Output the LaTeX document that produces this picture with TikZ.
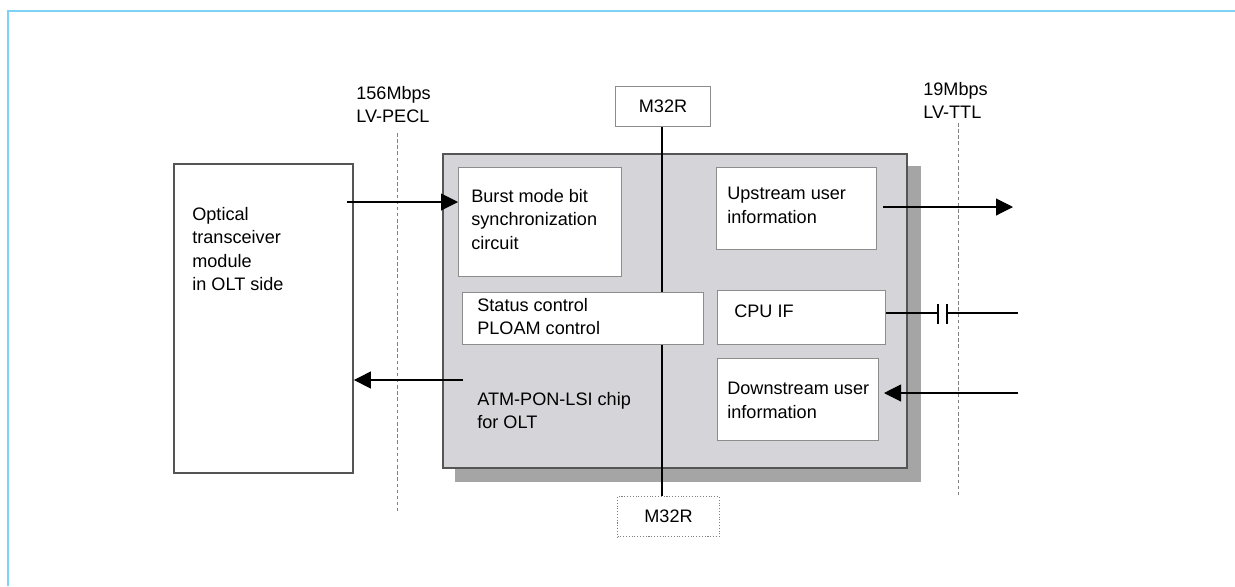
\documentclass[tikz,border=0pt]{standalone}
\usepackage{fontspec}
\setmainfont{Liberation Sans}
\usetikzlibrary{arrows.meta}

\definecolor{frameblue}{RGB}{125,210,245}
\definecolor{chipgray}{RGB}{213,213,217}
\definecolor{shadowgray}{RGB}{165,165,165}
\definecolor{edgegray}{RGB}{85,85,85}
\definecolor{boxgray}{RGB}{140,140,140}

\begin{document}
\begin{tikzpicture}[x=0.02cm, y=-0.02cm,
    outer/.style = {draw=edgegray, line width=1.1pt, fill=white, anchor=north west, inner sep=0},
    inner/.style = {draw=boxgray, line width=0.6pt, fill=white, anchor=north west, inner sep=0},
    txt/.style = {inner sep=0, anchor=north west, align=left, font=\fontsize{10.3}{13.3}\selectfont},
    rate/.style = {draw=gray, line width=0.5pt, dash pattern=on 2pt off 1.5pt},
    sig/.style = {line width=0.6pt, -{Triangle[length=0.34cm, width=0.34cm]}}]
    \useasboundingbox (0,0) rectangle (1235,586);

    % frame
    \draw[frameblue, line width=1.2pt] (8,586) -- (8,11) -- (1235,11);

    % interface rates
    \node[txt] (pecl) at (356,86) {156Mbps\\LV-PECL};
    \node[txt] (ttl) at (923,82) {19Mbps\\LV-TTL};
    \draw[rate] (397,133) -- (397,511);
    \draw[rate] (958,123) -- (958,495);

    % optical module
    \node[outer, minimum width=3.58cm, minimum height=6.18cm] (optic) at (173,163) {};
    \node[txt] (optictxt) at (192,207) {Optical\\transceiver\\module\\in OLT side};

    % chip
    \fill[shadowgray] (455,166) rectangle (921,482);
    \node[outer, fill=chipgray, minimum width=9.28cm, minimum height=6.28cm] (chip) at (442,153) {};

    % M32R
    \node[draw=boxgray, line width=0.6pt, fill=white, minimum width=1.9cm, minimum height=0.8cm, anchor=north west,
        font=\fontsize{10.3}{13.3}\selectfont] (m32top) at (615,86) {M32R};
    \node[draw=gray, line width=0.6pt, densely dotted, fill=white, minimum width=2.04cm, minimum height=0.8cm,
        anchor=north west, font=\fontsize{10.3}{13.3}\selectfont] (m32bot) at (617,496) {M32R};
    \coordinate (bus) at (662,300);
    \draw[line width=0.6pt] (m32top.south -| bus) -- (m32bot.north -| bus);

    % blocks inside chip
    \node[inner, minimum width=3.26cm, minimum height=2.18cm] (burst) at (458,167) {};
    \node[txt] at (471,189) {Burst mode bit\\synchronization\\circuit};
    \node[inner, minimum width=3.2cm, minimum height=1.64cm] (upstream) at (716,167) {};
    \node[txt] at (727,187) {Upstream user\\information};
    \node[inner, minimum width=4.82cm, minimum height=1.04cm] (status) at (462,292) {};
    \node[txt] at (477,298) {Status control\\PLOAM control};
    \node[inner, minimum width=3.36cm, minimum height=1.08cm] (cpuif) at (717,290) {};
    \node[txt] at (734,305) {CPU IF};
    \node[inner, minimum width=3.22cm, minimum height=1.64cm] (downstream) at (717,358) {};
    \node[txt] at (727,382) {Downstream user\\information};
    \node[txt] (chiptxt) at (477,392) {ATM-PON-LSI chip\\for OLT};

    % signals
    \coordinate (rxin) at (347,202);
    \coordinate (txout) at (463,380);
    \coordinate (upout) at (1013,207);
    \coordinate (upin) at (883,207);
    \coordinate (downin) at (1018,393);
    \coordinate (cpuout) at (1018,313);
    \draw[sig] (rxin) -- (burst.west |- rxin);
    \draw[sig] (txout) -- (optic.east |- txout);
    \draw[sig] (upin) -- (upout);
    \draw[sig, shorten >=0.1cm] (downin) -- (downstream.east |- downin);

    % cpu link with capacitor
    \draw[line width=0.6pt] (cpuif.east |- cpuout) -- (938,313) (938,304) -- (938,324)
        (947,304) -- (947,324) (947,313) -- (cpuout);
\end{tikzpicture}
\end{document}
